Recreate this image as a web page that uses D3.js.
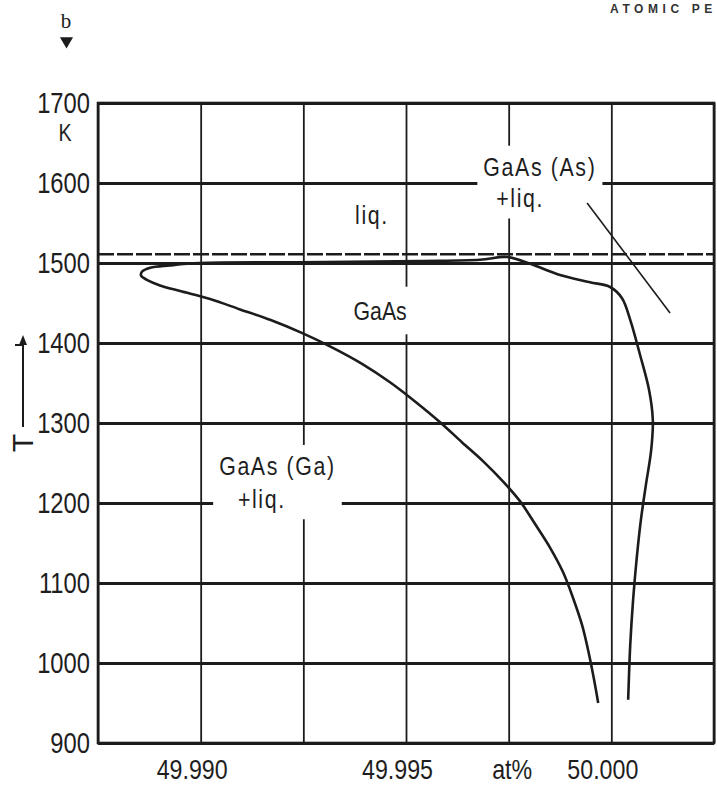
<!DOCTYPE html>
<html>
<head>
<meta charset="utf-8">
<script src="https://cdn.jsdelivr.net/npm/d3@7"></script>
<style>
  body { margin: 0; background: #fff; }
  svg { display: block; }
  .lbl { font-family: "Liberation Sans", Arial, sans-serif; fill: #1e1e1e; }
</style>
</head>
<body>
<div id="chart"></div>
<script>
// Axis ticks
var tempTicks = [900, 1000, 1100, 1200, 1300, 1400, 1500, 1600, 1700];
var xGrid = [49.9875, 49.990, 49.9925, 49.995, 49.9975, 50.000, 50.0025];
var xLabelPos = [49.990, 49.995, 49.9975, 50.000];
var xLabelText = ["49.990", "49.995", "at%", "50.000"];

// GaAs solidus (at% As, T in K):
// Ga-rich side from the bottom up, round the retrograde tip, to the top, then the As-rich side down
var solidusX = [49.99968, 49.99958, 49.99946, 49.99929, 49.99907, 49.99882, 49.99851, 49.99814,
  49.99778, 49.99736, 49.99688, 49.99636, 49.99583, 49.99522, 49.99461, 49.99393, 49.99322,
  49.99249, 49.99169, 49.99096, 49.99023, 49.98950, 49.98901, 49.98869, 49.98855, 49.98857,
  49.98877, 49.98925, 49.98998, 49.99242, 49.99534, 49.99680, 49.99746,
  49.99802, 49.99875, 49.99948, 49.99997, 50.00026, 50.00046, 50.00070, 50.00092, 50.00101,
  50.00097, 50.00084, 50.00072, 50.00062, 50.00053, 50.00046, 50.00041];
var solidusT = [950, 979, 1010, 1047, 1081, 1114, 1144, 1174,
  1202, 1227, 1252, 1276, 1301, 1327, 1351, 1374, 1394,
  1412, 1429, 1442, 1455, 1465, 1472, 1479, 1484, 1489,
  1494, 1497, 1500, 1501, 1502.5, 1504, 1507.5,
  1499, 1485, 1476, 1470, 1456, 1429, 1385, 1341, 1304,
  1266, 1222, 1179, 1132, 1079, 1022, 954];

// congruent melting point (dashed)
var meltT = 1511;

// leader line in GaAs(As)+liq.
var leaderX = [49.99941, 50.00143];
var leaderT = [1575, 1437.5];

// region labels
var labelText = ["liq.", "GaAs (As)", "+liq.", "GaAs", "GaAs (Ga)", "+liq."];
var labelX = [49.99417, 49.99826, 49.99778, 49.99437, 49.99187, 49.99149];
var labelT = [1549, 1609, 1570, 1429, 1235, 1194];
var labelGroup = [0, 1, 1, 2, 3, 3];
var groupPad = [0, 6, 9, 6];

var width = 717, height = 785;
var mL = 98, mR = 714, mT = 103, mB = 743;
var narrow = 0.82;

var svg = d3.select("#chart").append("svg")
  .attr("width", width)
  .attr("height", height);

var x = d3.scaleLinear().domain([49.9875, 50.0025]).range([mL, mR]);
var y = d3.scaleLinear().domain([900, 1700]).range([mB, mT]);

var ink = "#1c1c1c";

// horizontal grid
svg.append("g")
  .attr("transform", "translate(" + mL + ",0)")
  .call(d3.axisLeft(y).tickValues(tempTicks).tickSize(-(mR - mL)).tickFormat(""))
  .call(g => g.select(".domain").remove())
  .call(g => g.selectAll(".tick line").attr("stroke", ink).attr("stroke-width", 2.8));

// vertical grid
svg.append("g")
  .attr("transform", "translate(0," + mB + ")")
  .call(d3.axisBottom(x).tickValues(xGrid).tickSize(-(mB - mT)).tickFormat(""))
  .call(g => g.select(".domain").remove())
  .call(g => g.selectAll(".tick line").attr("stroke", ink).attr("stroke-width", 1.8));

// frame
svg.append("rect")
  .attr("x", mL).attr("y", mT)
  .attr("width", mR - mL).attr("height", mB - mT)
  .attr("fill", "none").attr("stroke", ink).attr("stroke-width", 2.6);

// dashed melting line
svg.append("line")
  .attr("x1", x(49.9875)).attr("x2", x(50.0025))
  .attr("y1", y(meltT)).attr("y2", y(meltT))
  .attr("stroke", ink).attr("stroke-width", 2.6)
  .attr("stroke-dasharray", "16,3");

// white boxes behind the labels hide the grid
var boxLayer = svg.append("g");

var labels = labelText.map((t, i) => ({ t: t, px: x(labelX[i]), py: y(labelT[i]), g: labelGroup[i] }));

// solidus curve
var line = d3.line()
  .x(d => x(d[0]))
  .y(d => y(d[1]))
  .curve(d3.curveCatmullRom.alpha(0.5));

svg.append("path")
  .datum(solidusX.map((v, i) => [v, solidusT[i]]))
  .attr("d", line)
  .attr("fill", "none")
  .attr("stroke", ink)
  .attr("stroke-width", 2.6)
  .attr("stroke-linejoin", "round");

var textLayer = svg.append("g");
var texts = textLayer.selectAll("text")
  .data(labels)
  .join("text")
  .attr("class", "lbl")
  .attr("transform", d => "translate(" + d.px + "," + d.py + ") scale(" + narrow + ",1)")
  .attr("text-anchor", "middle")
  .attr("font-size", 26)
  .attr("letter-spacing", d => d.t === "GaAs" ? 0 : 2)
  .text(d => d.t);

d3.range(groupPad.length).forEach(function(gi) {
  if (!groupPad[gi]) return;
  var x0 = Infinity, y0 = Infinity, x1 = -Infinity, y1 = -Infinity;
  texts.filter(d => d.g === gi).each(function(d) {
    var b = this.getBBox();
    x0 = Math.min(x0, d.px + b.x * narrow);
    x1 = Math.max(x1, d.px + (b.x + b.width) * narrow);
    y0 = Math.min(y0, d.py + b.y);
    y1 = Math.max(y1, d.py + b.y + b.height);
  });
  var p = groupPad[gi];
  boxLayer.append("rect")
    .attr("x", x0 - p).attr("y", y0 - p)
    .attr("width", x1 - x0 + 2 * p).attr("height", y1 - y0 + 2 * p)
    .attr("fill", "#fff");
});

// leader line
svg.append("line")
  .attr("x1", x(leaderX[0])).attr("y1", y(leaderT[0]))
  .attr("x2", x(leaderX[1])).attr("y2", y(leaderT[1]))
  .attr("stroke", ink).attr("stroke-width", 1.6);

// y tick labels
svg.append("g")
  .attr("transform", "translate(" + (mL - 8) + ",0)")
  .call(d3.axisLeft(y).tickValues(tempTicks).tickSize(0).tickPadding(0).tickFormat(d3.format("d")))
  .call(g => g.select(".domain").remove())
  .call(g => g.selectAll("text").attr("class", "lbl").attr("font-size", 29)
    .attr("transform", "scale(" + narrow + ",1)"));

// x tick labels
svg.append("g")
  .attr("transform", "translate(0," + mB + ")")
  .call(d3.axisBottom(x).tickValues(xLabelPos).tickSize(0).tickPadding(17)
    .tickFormat((d, i) => xLabelText[i]))
  .call(g => g.select(".domain").remove())
  .call(g => g.selectAll("text").attr("class", "lbl").attr("font-size", 27)
    .attr("transform", (d, i) => "translate(" + (xLabelText[i] === "at%" ? 3 : -9) + ",0) scale(" + (narrow + 0.04) + ",1)"));

// unit K
svg.append("text")
  .attr("class", "lbl")
  .attr("transform", "translate(65,141) scale(" + narrow + ",1)")
  .attr("text-anchor", "middle")
  .attr("font-size", 24)
  .text("K");

// T axis title with arrow
svg.append("defs").append("marker")
  .attr("id", "arr")
  .attr("viewBox", "0 0 10 10")
  .attr("refX", 5).attr("refY", 5)
  .attr("markerWidth", 5).attr("markerHeight", 5)
  .attr("orient", "auto")
  .append("path")
  .attr("d", "M0,1L10,5L0,9Z")
  .attr("fill", ink);

svg.append("line")
  .attr("x1", 23).attr("y1", 427)
  .attr("x2", 23).attr("y2", 340)
  .attr("stroke", ink).attr("stroke-width", 2)
  .attr("marker-end", "url(#arr)");

svg.append("line")
  .attr("x1", 15).attr("x2", 23)
  .attr("y1", 345).attr("y2", 345)
  .attr("stroke", ink).attr("stroke-width", 2);

svg.append("text")
  .attr("class", "lbl")
  .attr("transform", "translate(33,443) rotate(-90)")
  .attr("text-anchor", "middle")
  .attr("font-size", 30)
  .text("T");

// panel mark
svg.append("text")
  .attr("x", 66).attr("y", 28)
  .attr("text-anchor", "middle")
  .attr("font-family", "Liberation Serif, DejaVu Serif, serif")
  .attr("font-size", 21)
  .attr("fill", ink)
  .text("b");

svg.append("path")
  .attr("d", d3.symbol(d3.symbolTriangle, 75)())
  .attr("transform", "translate(66.5,41) rotate(180)")
  .attr("fill", ink);

// header fragment (cut at the picture edge in the original)
svg.append("text")
  .attr("x", 610).attr("y", 13)
  .attr("font-family", "Liberation Sans, Arial, sans-serif")
  .attr("font-weight", "bold")
  .attr("font-size", 12)
  .attr("letter-spacing", 4.6)
  .attr("fill", "#333")
  .text("ATOMIC PE");
</script>
</body>
</html>
